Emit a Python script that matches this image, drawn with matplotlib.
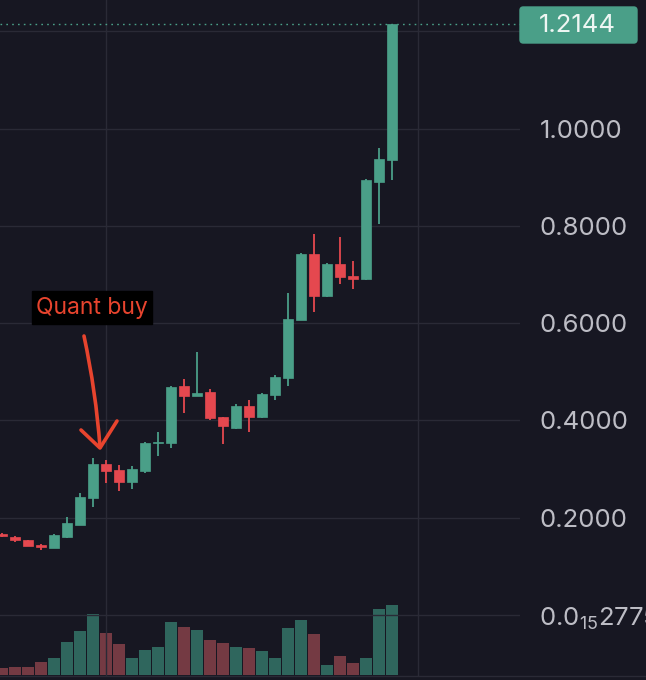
import numpy as np
import matplotlib
matplotlib.use("Agg")
import matplotlib.pyplot as plt
from matplotlib.path import Path
from matplotlib.patches import PathPatch, Rectangle, FancyBboxPatch

# candle data (one row per bar, left to right)
opens  = [0.166, 0.161, 0.154, 0.144, 0.137, 0.161, 0.186, 0.240, 0.310, 0.298,
          0.274, 0.297, 0.353, 0.353, 0.470, 0.451, 0.459, 0.406, 0.385, 0.430,
          0.406, 0.452, 0.487, 0.607, 0.743, 0.656, 0.721, 0.697, 0.690, 0.890, 0.935]
closes = [0.162, 0.154, 0.142, 0.139, 0.164, 0.190, 0.243, 0.310, 0.296, 0.274,
          0.300, 0.353, 0.356, 0.469, 0.451, 0.457, 0.404, 0.388, 0.430, 0.406,
          0.454, 0.490, 0.609, 0.743, 0.656, 0.721, 0.695, 0.690, 0.894, 0.938, 1.2144]
highs  = [0.168, 0.162, 0.155, 0.146, 0.166, 0.202, 0.251, 0.322, 0.318, 0.308,
          0.306, 0.356, 0.376, 0.470, 0.486, 0.540, 0.465, 0.408, 0.434, 0.442,
          0.456, 0.494, 0.662, 0.745, 0.783, 0.723, 0.777, 0.728, 0.897, 0.959, 1.2144]
lows   = [0.161, 0.151, 0.141, 0.134, 0.137, 0.159, 0.186, 0.223, 0.272, 0.254,
          0.260, 0.291, 0.327, 0.343, 0.416, 0.451, 0.401, 0.351, 0.382, 0.377,
          0.404, 0.442, 0.471, 0.607, 0.623, 0.654, 0.681, 0.671, 0.688, 0.804, 0.894]
volumes = [0.73, 0.83, 0.83, 1.30, 1.73, 3.27, 4.43, 6.07, 4.17, 3.13,
           1.67, 2.47, 2.77, 5.33, 4.77, 4.50, 3.50, 3.17, 2.83, 2.67,
           2.40, 1.67, 4.67, 5.50, 4.10, 1.00, 1.93, 1.23, 1.67, 6.57, 7.00]

last_price = 1.2144
price_ticks = [0.0, 0.2, 0.4, 0.6, 0.8, 1.0, 1.2]
price_labels = ["0.0$_{\\mathregular{15}}$2775", "0.2000", "0.4000", "0.6000",
                "0.8000", "1.0000", ""]
annotation = "Quant buy"

# colours
BG = "#171722"
GRID = "#2a2a36"
UP = "#4a9f88"
DOWN = "#e5484f"
VUP = "#2f665d"
VDOWN = "#743a43"
LABEL = "#bdbdc5"
ARROW = "#e8442e"

plt.rcParams["font.family"] = ["Inter", "DejaVu Sans"]
plt.rcParams["mathtext.fontset"] = "custom"
plt.rcParams["mathtext.rm"] = "Inter"

W, H = 646, 680
fig = plt.figure(figsize=(W / 100, H / 100), dpi=100, facecolor=BG)


def px(x, y):
    # pixel (from top-left) -> figure fraction
    return x / W, 1 - y / H


ax = fig.add_axes([0, 3 / H, 520 / W, 677 / H])
ax.set_facecolor(BG)
for s in ax.spines.values():
    s.set_visible(False)

x = np.arange(len(opens))
o = np.array(opens); c = np.array(closes)
up = c >= o
col = np.where(up, UP, DOWN)

# volume in a twin axis at the bottom
axv = ax.twinx()
axv.set_zorder(0)
ax.set_zorder(1)
ax.patch.set_visible(False)
axv.bar(x, volumes, width=0.9, color=np.where(up, VUP, VDOWN), zorder=2)
axv.set_ylim(-0.2, 67.5)
axv.set_yticks([])
for s in axv.spines.values():
    s.set_visible(False)

# candles
ax.vlines(x, lows, highs, colors=col, linewidth=1.3, zorder=3)
ax.bar(x, c - o, bottom=o, width=0.72, color=col, edgecolor=col,
       linewidth=0.5, zorder=4)

ax.set_xlim(-0.15, 39.85)
ax.set_ylim((615 - 677) / 486.5, 615 / 486.5)

ax.set_yticks(price_ticks)
ax.set_yticklabels(price_labels)
ax.yaxis.tick_right()
ax.tick_params(axis="y", length=0, pad=14, labelsize=18.5, labelcolor=LABEL)
ax.set_xticks([8, 32])
ax.tick_params(axis="x", length=0, labelbottom=False)
ax.grid(True, color=GRID, linewidth=1.0)
axv.grid(False)

# last price line and tag
ax.axhline(last_price, color=UP, linestyle=(0, (1.2, 3)), linewidth=1.0, zorder=2)
x0, y0 = px(520, 43)
x1, y1 = px(637, 7)
fig.patches.append(FancyBboxPatch((x0, y0), x1 - x0, y1 - y0,
                                  boxstyle="round,pad=0,rounding_size=0.005",
                                  transform=fig.transFigure, color=UP))
fig.text(*px(539, 25), f"{last_price:.4f}", color="#eef6f3", fontsize=18.5,
         ha="left", va="center")

# bottom separator
fig.add_artist(plt.Line2D([0, 1], [px(0, 676)[1]] * 2, color=GRID, lw=1.0))

# annotation box and hand-drawn arrow
bx0, by0 = px(32, 324)
bx1, by1 = px(152, 291)
fig.patches.append(Rectangle((bx0, by0), bx1 - bx0, by1 - by0,
                             transform=fig.transFigure, color="#000000"))
fig.text(*px(92, 308), annotation, color=ARROW, fontsize=16.5,
         ha="center", va="center")

shaft = Path([px(84, 336), px(96, 392), px(100, 447)],
             [Path.MOVETO, Path.CURVE3, Path.CURVE3])
head = Path([px(81, 430), px(100, 448), px(117, 421)],
            [Path.MOVETO, Path.LINETO, Path.LINETO])
for p in (shaft, head):
    fig.patches.append(PathPatch(p, transform=fig.transFigure, fill=False,
                                 edgecolor=ARROW, linewidth=2.6,
                                 capstyle="round", joinstyle="round"))

fig.savefig("out.png", dpi=100, facecolor=BG)
